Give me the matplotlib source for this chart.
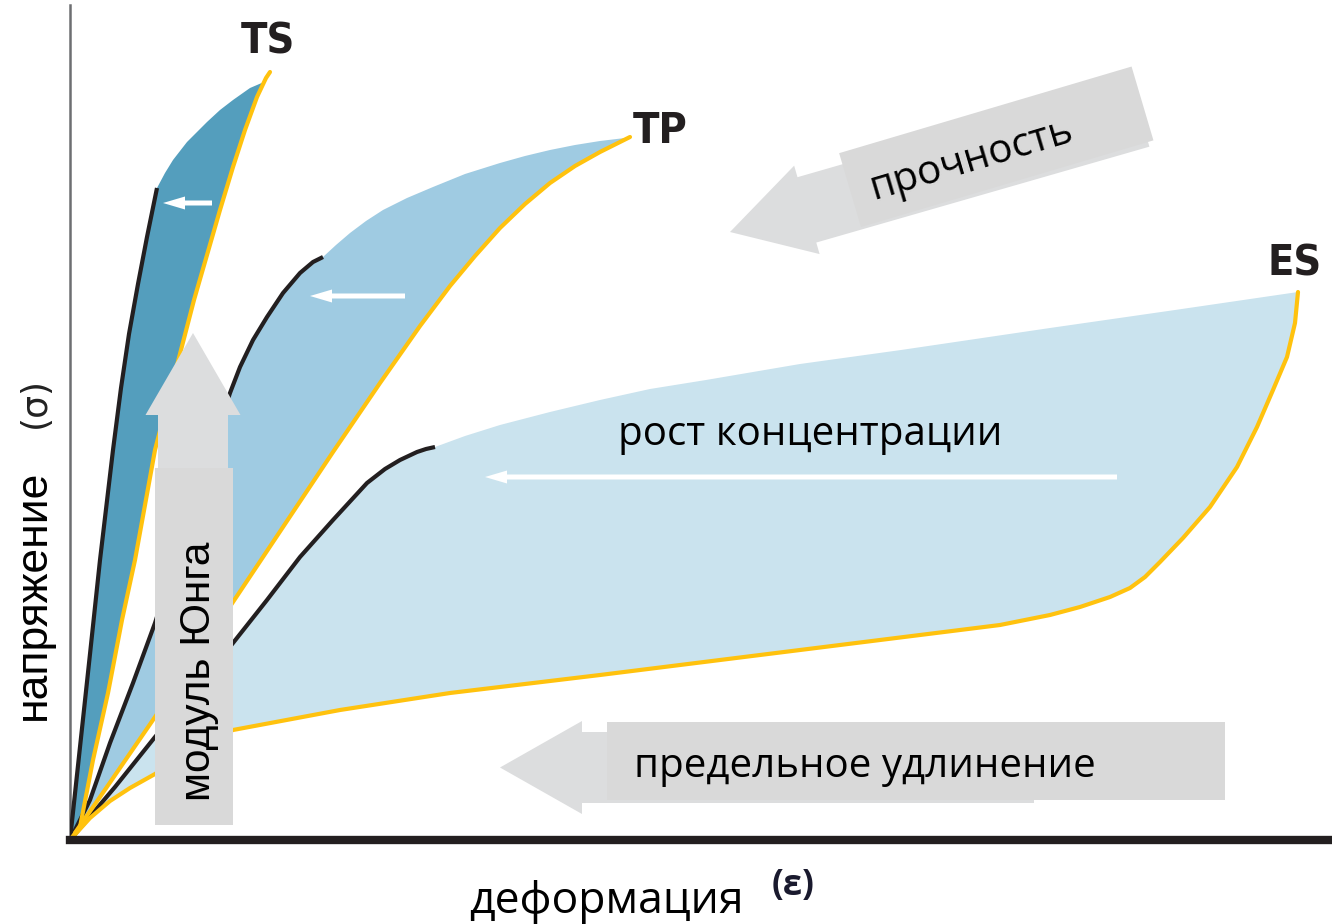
import matplotlib
matplotlib.use("Agg")
import matplotlib.pyplot as plt
import numpy as np
from matplotlib.patches import Polygon, Rectangle

# strain / stress points (arbitrary units)
# TS
ts_black_x = [0, 1.0, 2.0, 3.0, 4.3, 5.1, 5.9, 6.8, 7.7, 8.7]
ts_black_y = [0, 9.3, 18.6, 28.0, 39.0, 45.2, 50.6, 55.6, 60.3, 65.2]
ts_top_x = [8.7, 9.5, 10.3, 11.7, 13.7, 15.0, 16.3, 18.0, 19.4]
ts_top_y = [65.2, 66.7, 68.0, 69.8, 71.8, 73.0, 74.0, 75.2, 75.8]
ts_yellow_x = [0, 1.0, 2.3, 3.8, 5.2, 6.5, 8.5, 9.8, 11.1, 12.4, 13.7, 15.0, 16.3, 17.5, 18.7, 19.6, 20.0]
ts_yellow_y = [0, 1.3, 8.0, 14.7, 22.0, 28.0, 39.0, 44.0, 49.0, 54.0, 58.5, 63.0, 67.3, 71.0, 74.3, 76.2, 76.8]

# TP
tp_black_x = [0, 2.0, 4.0, 6.3, 8.5, 12.2, 16.0, 17.0, 18.3, 19.7, 21.3, 23.0, 24.3, 25.3]
tp_black_y = [0, 4.0, 9.7, 15.7, 21.7, 33.2, 44.7, 47.3, 50.0, 52.3, 54.7, 56.7, 57.8, 58.3]
tp_top_x = [25.3, 26.6, 28.0, 29.6, 31.3, 33.7, 36.3, 39.5, 43.0, 45.5, 48.0, 50.5, 53.0, 55.5]
tp_top_y = [58.3, 59.5, 60.7, 61.9, 63.0, 64.2, 65.3, 66.6, 67.7, 68.4, 69.0, 69.5, 69.9, 70.2]
tp_yellow_x = [0, 3.0, 8.5, 16.3, 21.3, 26.3, 31.0, 35.0, 38.0, 40.5, 43.0, 45.5, 48.0, 50.5, 53.0, 56.0]
tp_yellow_y = [0, 4.3, 12.3, 23.8, 31.3, 38.8, 45.7, 51.4, 55.4, 58.4, 61.2, 63.6, 65.7, 67.4, 68.8, 70.3]

# ES
es_black_x = [0, 4.5, 8.5, 12.5, 16.3, 19.7, 23.0, 26.3, 29.7, 31.5, 33.0, 34.7, 35.6, 36.5]
es_black_y = [0, 5.3, 10.3, 15.0, 19.7, 24.0, 28.3, 32.0, 35.7, 37.1, 38.0, 38.8, 39.1, 39.3]
es_top_x = [36.5, 39.5, 43.0, 48.0, 53.0, 58.0, 63.6, 73.0, 83.1, 98.0, 110.5, 122.8]
es_top_y = [39.3, 40.4, 41.5, 42.8, 44.0, 45.1, 46.0, 47.6, 49.0, 51.2, 53.0, 54.8]
es_yellow_x = [0, 2.0, 4.0, 6.0, 8.5, 12.0, 16.3, 27.0, 38.0, 53.0, 73.0, 93.0, 98.0, 101.0, 104.0,
               106.0, 107.5, 109.0, 111.3, 114.0, 116.7, 118.7, 120.3, 121.7, 122.5, 122.8]
es_yellow_y = [0, 2.2, 3.9, 5.2, 6.6, 8.9, 11.0, 13.0, 14.7, 16.5, 19.0, 21.5, 22.5, 23.3, 24.3,
               25.2, 26.3, 27.8, 30.2, 33.3, 37.3, 41.3, 45.0, 48.3, 51.7, 54.8]

fill_colors = {"TS": "#549EBD", "TP": "#9FCBE2", "ES": "#CAE3EE"}
yellow = "#FFC20E"
black = "#231F20"
arrow_gray = "#DCDDDE"
box_gray = "#D9D9D9"

fig = plt.figure(figsize=(13.32, 9.24), dpi=100)
ax = fig.add_axes([70 / 1332, 84 / 924, 1262 / 1332, 835 / 924])
ax.set_xlim(0, 126.2)
ax.set_ylim(0, 83.5)
ax.set_xticks([])
ax.set_yticks([])
ax.spines["top"].set_visible(False)
ax.spines["right"].set_visible(False)
ax.spines["left"].set_color("#6D6E71")
ax.spines["left"].set_linewidth(1.8)
ax.spines["bottom"].set_color(black)
ax.spines["bottom"].set_linewidth(6)
ax.spines["bottom"].set_zorder(10)

curves = [
    ("ES", es_black_x, es_black_y, es_top_x, es_top_y, es_yellow_x, es_yellow_y),
    ("TP", tp_black_x, tp_black_y, tp_top_x, tp_top_y, tp_yellow_x, tp_yellow_y),
    ("TS", ts_black_x, ts_black_y, ts_top_x, ts_top_y, ts_yellow_x, ts_yellow_y),
]

# filled bands
for name, bx, by, tx, ty, yx, yy in curves:
    pts = np.vstack([
        np.column_stack([bx, by]),
        np.column_stack([tx, ty]),
        np.column_stack([yx, yy])[::-1],
    ])
    ax.add_patch(Polygon(pts, closed=True, fc=fill_colors[name], ec="none", zorder=1))

# black and yellow curves
for name, bx, by, tx, ty, yx, yy in curves:
    ax.plot(bx, by, color=black, lw=3, solid_capstyle="butt", solid_joinstyle="round", zorder=3)
    ax.plot(yx, yy, color=yellow, lw=3, solid_capstyle="round", solid_joinstyle="round", zorder=3)

# white arrows inside the bands
white_arrows = [(14.2, 63.7, -4.9), (33.5, 54.4, -9.5), (104.7, 36.3, -63.2)]
for x, y, dx in white_arrows:
    ax.arrow(x, y, dx, 0, width=0.5, head_width=1.3, head_length=2.2,
             length_includes_head=True, fc="white", ec="none", zorder=2)

# curve names
label_font = ["Liberation Sans Narrow", "DejaVu Sans"]
for txt, x, y in [("TS", 19.8, 79.8), ("TP", 59.0, 70.9), ("ES", 122.5, 57.6)]:
    ax.text(x, y, txt, ha="center", va="center", fontsize=31, fontweight="bold",
            fontstretch="condensed", family=label_font, color=black, zorder=5)

# Young's modulus arrow
ax.arrow(12.3, 20, 0, 30.7, width=7.0, head_width=9.5, head_length=8.2,
         length_includes_head=True, fc=arrow_gray, ec="none", zorder=6)
ax.add_patch(Rectangle((8.5, 1.5), 7.8, 35.7, fc=box_gray, ec="none", zorder=7))
ax.text(12.9, 16.9, "модуль Юнга", rotation=90, ha="center", va="center",
        fontsize=30.5, family="Liberation Sans", color="black", zorder=8)

# strength arrow
ax.arrow(107.0, 72.6, -41.0, -11.8, width=6.8, head_width=9.2, head_length=8.0,
         length_includes_head=True, fc=arrow_gray, ec="none", zorder=6)
ax.add_patch(Rectangle((79.1, 61.3), 30.5, 7.7, angle=16.5, fc=box_gray, ec="none", zorder=7))
ax.text(90.2, 68.0, "прочность", rotation=16.5, rotation_mode="anchor",
        ha="center", va="center", fontsize=29, family="Open Sans", color="black", zorder=8)

# elongation arrow
ax.arrow(96.4, 7.25, -53.4, 0, width=7.1, head_width=9.3, head_length=8.2,
         length_includes_head=True, fc=arrow_gray, ec="none", zorder=6)
ax.add_patch(Rectangle((53.7, 4.0), 61.8, 7.8, fc=box_gray, ec="none", zorder=7))
ax.text(79.5, 6.3, "предельное удлинение", ha="center", va="baseline",
        fontsize=29, family="Open Sans", color="black", zorder=8)

ax.text(74.0, 39.5, "рост концентрации", ha="center", va="baseline",
        fontsize=29, family="Open Sans", color="black", zorder=8)

# axis titles
ax.text(-3.65, 24.5, "напряжение", rotation=90, ha="center", va="center",
        fontsize=32, family="Liberation Sans", color="black", clip_on=False)
ax.text(-3.5, 43.8, "(σ)", rotation=90, ha="center", va="center",
        fontsize=26, family="DejaVu Sans", color="#222222", clip_on=False)
ax.text(53.6, -7.3, "деформация", ha="center", va="baseline",
        fontsize=32, family="Open Sans", color="black", clip_on=False)
ax.text(72.3, -4.6, "(ε)", ha="center", va="center",
        fontsize=25, fontweight="bold", family="Open Sans", color="#1a1a2e", clip_on=False)

fig.savefig("out.png", dpi=100)
